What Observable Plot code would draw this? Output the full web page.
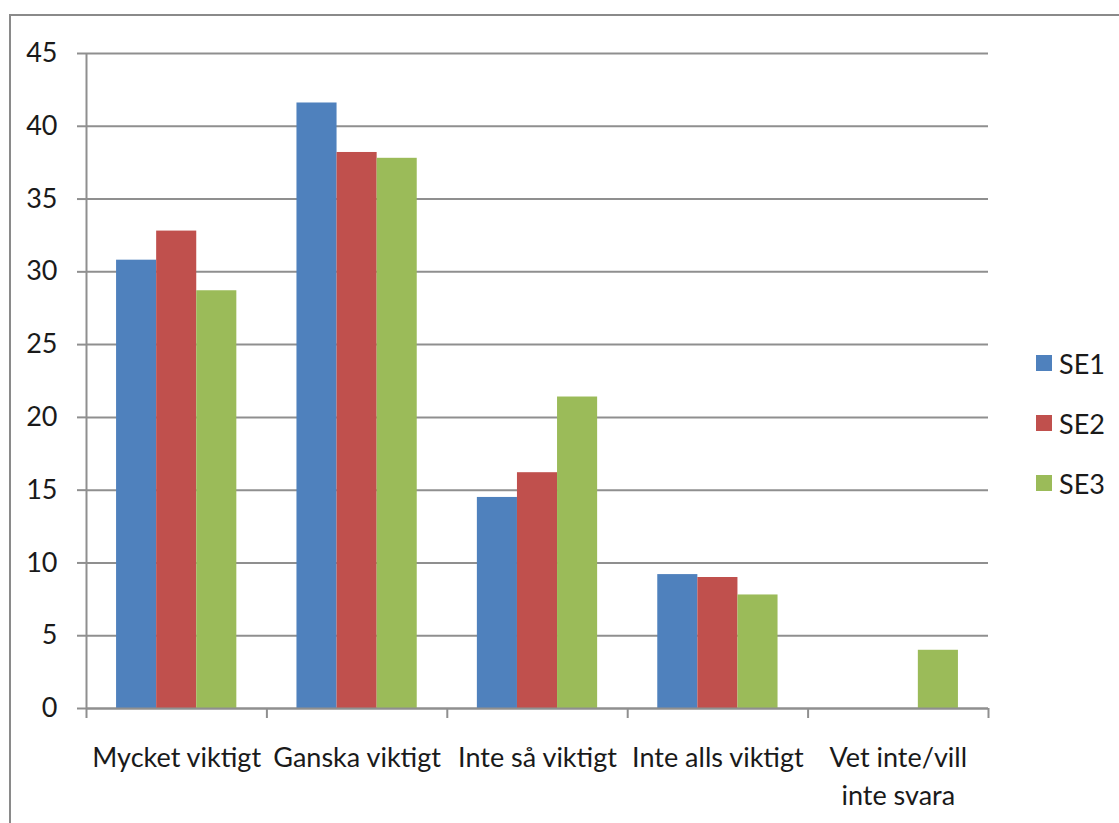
<!DOCTYPE html>
<html>
<head>
<meta charset="utf-8">
<script src="https://cdn.jsdelivr.net/npm/d3@7"></script>
<script src="https://cdn.jsdelivr.net/npm/@observablehq/plot@0.6"></script>
<style>
  html, body { margin: 0; padding: 0; background: #fff; overflow: hidden; }
  #wrap { position: relative; width: 1119px; height: 823px; overflow: hidden; font-family: Lato, sans-serif; }
  #frame { position: absolute; left: 8.5px; top: 14px; width: 1200px; height: 900px; border: 2.5px solid #8a8a8a; box-sizing: border-box; }
  #chart { position: absolute; left: 0; top: 0; }
  #legend { position: absolute; left: 1036px; top: 333px; }
  .item { display: flex; align-items: center; height: 60px; margin-top: 0; }
  .item .sw { width: 16px; height: 16px; margin-right: 7px; }
  .item span { font-size: 27px; color: #1a1a1a; line-height: 1; }
</style>
</head>
<body>
<div id="wrap">
  <div id="frame"></div>
  <div id="chart"></div>
  <div id="legend"></div>
</div>
<script>
const categories = ["Mycket viktigt", "Ganska viktigt", "Inte så viktigt", "Inte alls viktigt", "Vet inte/vill inte svara"];
const categoryLabels = ["Mycket viktigt", "Ganska viktigt", "Inte så viktigt", "Inte alls viktigt", "Vet inte/vill\ninte svara"];
const seriesNames = ["SE1", "SE2", "SE3"];
const SE1 = [30.8, 41.6, 14.5, 9.2, 0];
const SE2 = [32.8, 38.2, 16.2, 9.0, 0];
const SE3 = [28.7, 37.8, 21.4, 7.8, 4.0];
const seriesColors = ["#4F81BD", "#C0504D", "#9BBB59"];
const yTicks = [0, 5, 10, 15, 20, 25, 30, 35, 40, 45];

const seriesValues = [SE1, SE2, SE3];
const rows = [];
categories.forEach((c, ci) => {
  seriesNames.forEach((s, si) => {
    const v = seriesValues[si][ci];
    if (v > 0) rows.push({category: c, ci, series: s, si, value: v});
  });
});
const labelRows = categories.map((c, ci) => ({ci, label: categoryLabels[ci]}));

const gray = "#8f8f8f";
const outer = 1 / 6, bw = 2 / 9;

const chart = Plot.plot({
  width: 1119,
  height: 823,
  marginLeft: 86,
  marginRight: 131,
  marginTop: 53,
  marginBottom: 115,
  style: {fontFamily: "Lato, sans-serif", fontSize: "27px", color: "#1a1a1a", background: "transparent"},
  x: {domain: [0, categories.length], axis: null},
  y: {domain: [0, 45], axis: null},
  color: {domain: seriesNames, range: seriesColors},
  marks: [
    Plot.gridY(yTicks, {stroke: gray, strokeOpacity: 1, strokeWidth: 2}),
    Plot.axisY({ticks: yTicks, tickSize: 9, tickPadding: 20, stroke: gray, strokeWidth: 2, fill: "#1a1a1a", fontSize: 27, label: null}),
    Plot.rectY(rows, {
      x1: d => d.ci + outer + d.si * bw,
      x2: d => d.ci + outer + (d.si + 1) * bw,
      y: "value",
      fill: "series"
    }),
    Plot.ruleX([0], {stroke: gray, strokeWidth: 2}),
    Plot.ruleY([0], {stroke: gray, strokeWidth: 2}),
    Plot.axisX({ticks: d3.range(categories.length + 1), tickSize: 10, tickFormat: () => "", stroke: gray, strokeWidth: 2, label: null}),
    Plot.text(labelRows, {
      x: d => d.ci + 0.5,
      text: "label",
      frameAnchor: "bottom",
      lineAnchor: "top",
      dy: 31,
      lineHeight: 1.42,
      fontSize: 27,
      fill: "#1a1a1a"
    })
  ]
});
document.getElementById("chart").appendChild(chart);

const legend = document.getElementById("legend");
seriesNames.forEach((s, i) => {
  const item = document.createElement("div");
  item.className = "item";
  item.innerHTML = `<div class="sw" style="background:${seriesColors[i]}"></div><span>${s}</span>`;
  legend.appendChild(item);
});
</script>
</body>
</html>
